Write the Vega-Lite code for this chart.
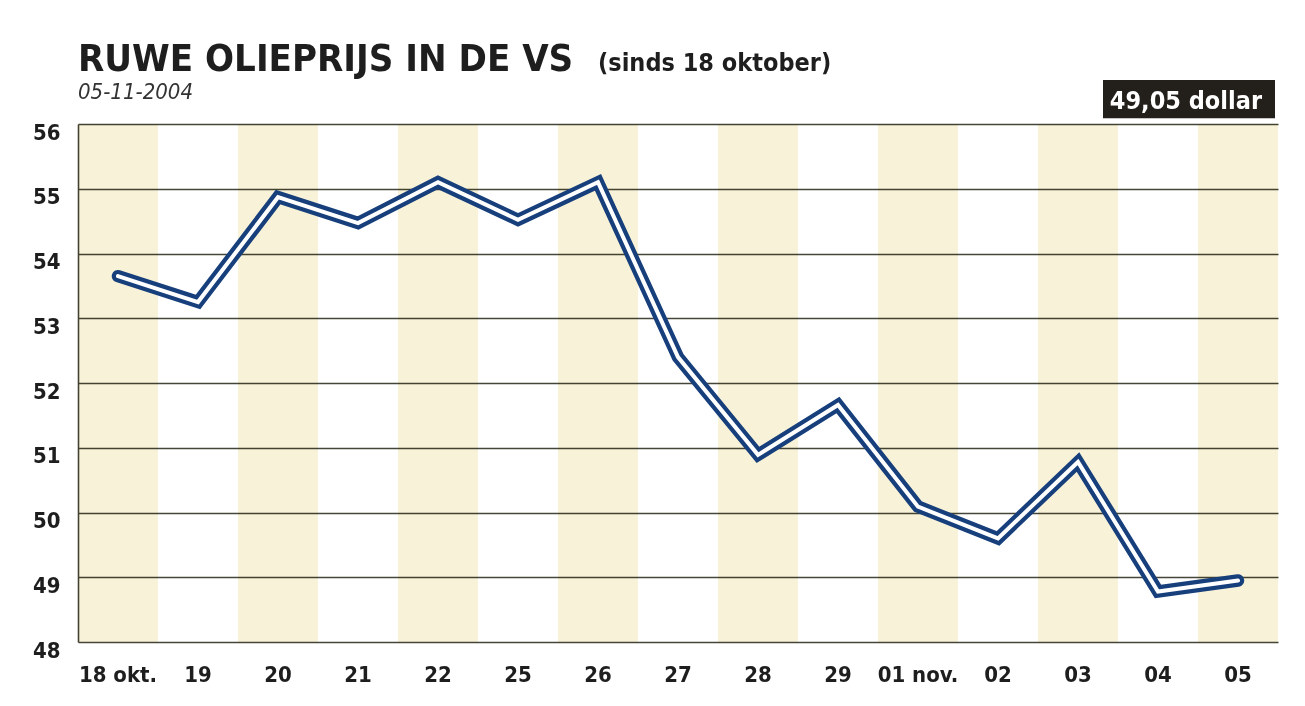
{
  "$schema": "https://vega.github.io/schema/vega-lite/v6.json",
  "width": 1200,
  "height": 518,
  "autosize": {"type": "none"},
  "padding": {"left": 78, "top": 124, "right": 27, "bottom": 64},
  "background": "white",
  "config": {"view": {"stroke": null}, "font": "DejaVu Sans Condensed, Roboto, Liberation Sans, sans-serif"},
  "title": {
    "text": "RUWE OLIEPRIJS IN DE VS",
    "subtitle": "05-11-2004",
    "anchor": "start",
    "frame": "group",
    "font": "DejaVu Sans Condensed, Roboto, Liberation Sans, sans-serif",
    "fontSize": 38,
    "fontWeight": "bold",
    "color": "#1e1e1e",
    "subtitleFont": "DejaVu Sans Condensed, Roboto, Liberation Sans, sans-serif",
    "subtitleFontSize": 22,
    "subtitleFontStyle": "italic",
    "subtitleColor": "#333333",
    "subtitlePadding": 3,
    "offset": -52
  },
  "data": {
    "values": [
      {"dag": "18 okt.", "prijs": 53.65},
      {"dag": "19", "prijs": 53.25},
      {"dag": "20", "prijs": 54.87},
      {"dag": "21", "prijs": 54.47},
      {"dag": "22", "prijs": 55.1},
      {"dag": "25", "prijs": 54.52},
      {"dag": "26", "prijs": 55.1},
      {"dag": "27", "prijs": 52.4},
      {"dag": "28", "prijs": 50.89},
      {"dag": "29", "prijs": 51.66},
      {"dag": "01 nov.", "prijs": 50.09},
      {"dag": "02", "prijs": 49.6},
      {"dag": "03", "prijs": 50.78},
      {"dag": "04", "prijs": 48.78},
      {"dag": "05", "prijs": 48.95}
    ]
  },
  "encoding": {
    "x": {
      "field": "dag",
      "type": "ordinal",
      "sort": null,
      "scale": {
        "type": "band",
        "paddingInner": 0,
        "paddingOuter": 0,
        "domain": ["18 okt.", "19", "20", "21", "22", "25", "26", "27", "28", "29", "01 nov.", "02", "03", "04", "05"]
      },
      "axis": {
        "title": null,
        "domain": false,
        "ticks": false,
        "grid": false,
        "labelAngle": 0,
        "labelPadding": 22,
        "labelFontSize": 22,
        "labelFontWeight": "bold",
        "labelColor": "#1e1e1e"
      }
    }
  },
  "layer": [
    {
      "transform": [
        {"window": [{"op": "row_number", "as": "nr"}]},
        {"filter": "datum.nr % 2 == 1"}
      ],
      "mark": {"type": "rect", "color": "#f8f3d8", "blend": "multiply"},
      "encoding": {}
    },
    {
      "mark": {"type": "line", "color": "#173f7c", "strokeWidth": 12.5, "strokeCap": "round", "strokeJoin": "miter"},
      "encoding": {
        "y": {
          "field": "prijs",
          "type": "quantitative",
          "scale": {"domain": [48, 56], "nice": false, "zero": false},
          "axis": {
            "title": null,
            "values": [48, 49, 50, 51, 52, 53, 54, 55, 56],
            "format": "d",
            "grid": true,
            "gridColor": "#45453a",
            "gridWidth": 1.6,
            "domain": true,
            "domainColor": "#45453a",
            "domainWidth": 1.6,
            "ticks": false,
            "labelPadding": 18,
            "labelOffset": 8,
            "labelFontSize": 22,
            "labelFontWeight": "bold",
            "labelColor": "#1e1e1e"
          }
        }
      }
    },
    {
      "mark": {"type": "line", "color": "white", "strokeWidth": 4, "strokeCap": "round", "strokeJoin": "miter"},
      "encoding": {"y": {"field": "prijs", "type": "quantitative"}}
    },
    {
      "data": {"values": [{"label": "49,05 dollar"}]},
      "mark": {"type": "rect", "color": "#231f1a", "clip": false, "xOffset": -55, "x2Offset": 37},
      "encoding": {
        "x": {"datum": "04"},
        "x2": {"datum": "05"},
        "y": {"datum": 56.68},
        "y2": {"datum": 56.09}
      }
    },
    {
      "data": {"values": [{"label": "49,05 dollar"}]},
      "mark": {"type": "text", "color": "white", "fontSize": 25, "fontWeight": "bold", "align": "right", "baseline": "alphabetic", "dx": 24, "dy": -15, "clip": false},
      "encoding": {
        "x": {"datum": "05"},
        "y": {"datum": 56},
        "text": {"field": "label"}
      }
    },
    {
      "data": {"values": [{"label": "(sinds 18 oktober)"}]},
      "mark": {"type": "text", "color": "#1e1e1e", "fontSize": 25, "fontWeight": "bold", "align": "left", "baseline": "alphabetic", "dx": 0, "dy": -53, "clip": false},
      "encoding": {
        "x": {"datum": "26"},
        "y": {"datum": 56},
        "text": {"field": "label"}
      }
    }
  ]
}
